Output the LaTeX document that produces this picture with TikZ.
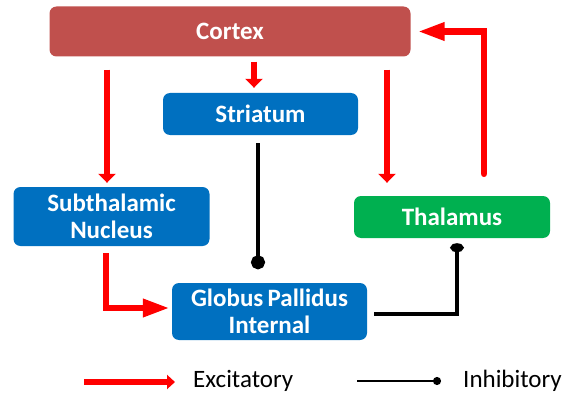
\documentclass[tikz,border=0pt]{standalone}
\usepackage{fontspec}
\setmainfont{Carlito}
\usetikzlibrary{arrows.meta}
\definecolor{ctxred}{HTML}{C0504D}
\definecolor{nblue}{HTML}{0070C0}
\definecolor{ngreen}{HTML}{00B050}
\definecolor{exred}{HTML}{FF0000}
\tikzset{
  box/.style={rounded corners=7pt, text=white, inner sep=0pt, align=center,
    font=\bfseries\fontsize{25}{27.5}\selectfont},
  excv/.style={draw=exred, line width=6.5pt, -{Triangle[length=9pt,width=17pt]}},
  exch/.style={draw=exred, line width=6.5pt, -{Triangle[length=27pt,width=17pt]}},
  inh/.style={draw=black, line width=4.5pt},
  legtext/.style={anchor=west, inner sep=0pt, font=\fontsize{25}{27}\selectfont}
}
\begin{document}
\begin{tikzpicture}[x=1pt,y=-1pt]
\useasboundingbox (0,0) rectangle (576,396);
% boxes
\node[box, fill=ctxred, minimum width=361pt, minimum height=50pt] (cortex) at (230,31.5) {Cortex};
\node[box, fill=nblue, minimum width=195pt, minimum height=42pt] (str) at (260.5,114) {Striatum};
\node[box, fill=nblue, minimum width=196pt, minimum height=59pt] (stn) at (111.5,216.5) {Subthalamic\\Nucleus};
\node[box, fill=ngreen, minimum width=196pt, minimum height=42pt] (thal) at (452,217) {Thalamus};
\node[box, fill=nblue, minimum width=195pt, minimum height=57pt] (gpi) at (269.5,311.5) {Globus\,Pallidus\\Internal};
% excitatory
\draw[excv, shorten <=13pt, shorten >=4pt] ([xshift=-4.5pt]cortex.south -| stn.north) -- ([xshift=-4.5pt]stn.north);
\draw[excv, shorten <=5pt, shorten >=5pt] ([xshift=-6.5pt]cortex.south -| str.north) -- ([xshift=-6.5pt]str.north);
\draw[excv, shorten <=13pt, shorten >=13pt] ([xshift=-65pt]cortex.south -| thal.north) -- ([xshift=-65pt]thal.north);
\draw[exch, line cap=round, shorten >=7pt] ([xshift=32pt,yshift=22pt]thal.north) |- (cortex.east);
\draw[exch, shorten >=2pt] ([xshift=-5.5pt,yshift=-7pt]stn.south) |- ([yshift=3.5pt]gpi.west);
% inhibitory
\draw[inh, -{Circle[length=14pt,width=14pt]}, shorten <=8pt, shorten >=13.5pt] ([xshift=-2.5pt]str.south) -- ([xshift=-2.5pt]str.south |- gpi.north);
\draw[inh, -{Circle[length=9pt,width=13pt]}, shorten >=5pt] ([xshift=7pt,yshift=-2.5pt]gpi.east) -| ([xshift=5pt]thal.south);
% legend
\coordinate (e1) at (84,382);
\coordinate (e2) at (175,382);
\draw[excv, line width=6pt, -{Triangle[length=8pt,width=14pt]}] (e1) -- (e2);
\node[legtext] (exl) at (193,381) {Excitatory};
\coordinate (i1) at (357,381);
\coordinate (i2) at (441,381);
\draw[black, line width=2pt, -{Circle[length=8pt,width=8pt]}] (i1) -- (i2);
\node[legtext] (inl) at (463,381) {Inhibitory};
\end{tikzpicture}
\end{document}
